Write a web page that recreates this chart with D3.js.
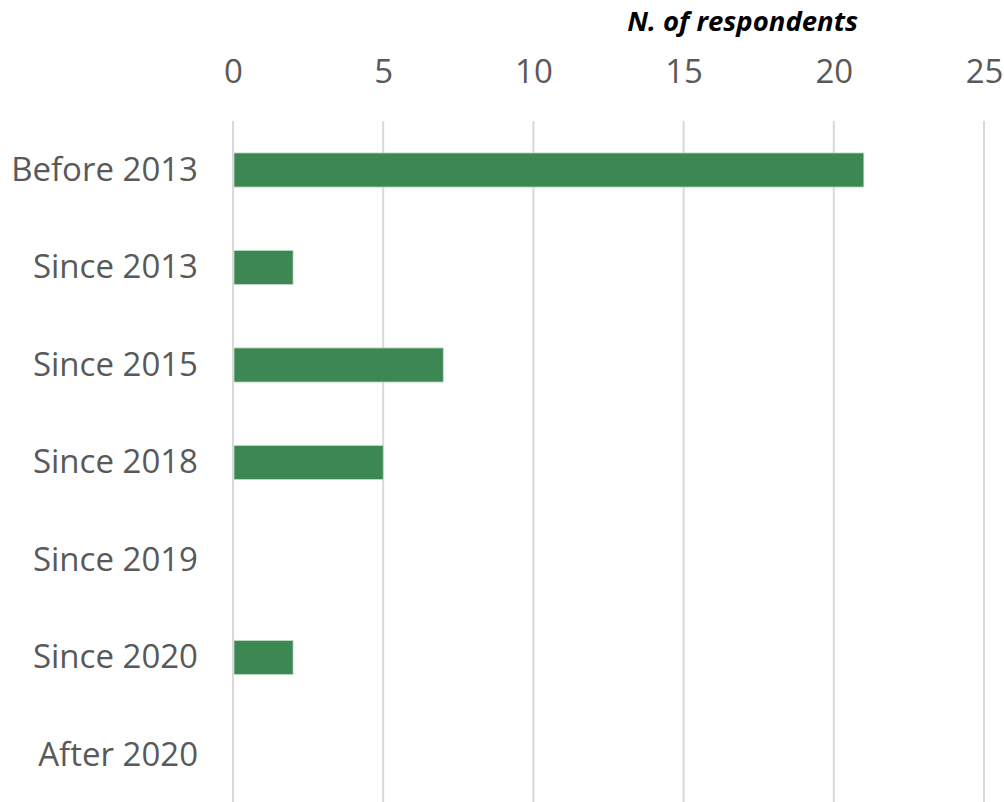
<!DOCTYPE html>
<html><head><meta charset="utf-8">
<script src="https://cdn.jsdelivr.net/npm/d3@7"></script>
<style>body{margin:0;background:#fff}svg{display:block}</style>
</head><body>
<script>
const categories = ["Before 2013","Since 2013","Since 2015","Since 2018","Since 2019","Since 2020","After 2020"];
const values = [21,2,7,5,0,2,0];
const ticks = [0,5,10,15,20,25];
const title = "N. of respondents";

const W=1004,H=802;
const svg=d3.select("body").append("svg").attr("width",W).attr("height",H);
const x=d3.scaleLinear().domain([0,25]).range([233,984]);
const y=d3.scaleBand().domain(categories).range([121.25,803.75]).paddingInner(0.65).paddingOuter(0.325);
const font="'Open Sans', sans-serif";

// gridlines
svg.append("g").selectAll("line").data(ticks).join("line")
  .attr("x1",d=>x(d)).attr("x2",d=>x(d)).attr("y1",121).attr("y2",802)
  .attr("stroke","#d9d9d9").attr("stroke-width",2);

// top axis labels
const ax=svg.append("g").attr("transform","translate(0,83)")
  .call(d3.axisTop(x).tickValues(ticks).tickSize(0).tickPadding(0));
ax.select(".domain").remove();
ax.selectAll("text").attr("font-family",font).attr("font-size",33).attr("fill","#595959");

// y labels
const ay=svg.append("g").attr("transform","translate(198,0)")
  .call(d3.axisLeft(y).tickSize(0).tickPadding(0));
ay.select(".domain").remove();
ay.selectAll("text").attr("font-family",font).attr("font-size",33).attr("fill","#595959");

// bars
svg.append("g").selectAll("rect").data(categories.map((c,i)=>({c,v:values[i]})).filter(d=>d.v>0)).join("rect")
  .attr("x",x(0)+1).attr("y",d=>y(d.c)).attr("width",d=>x(d.v)-x(0)-1).attr("height",y.bandwidth())
  .attr("fill","#3d8753").attr("stroke","#c6dccb").attr("stroke-width",0.8);

svg.append("text").attr("x",858).attr("y",31).attr("text-anchor","end")
  .attr("font-family",font).attr("font-size",27.5).attr("font-weight","bold").attr("font-style","italic")
  .attr("fill","#000").text(title);
</script>
</body></html>
